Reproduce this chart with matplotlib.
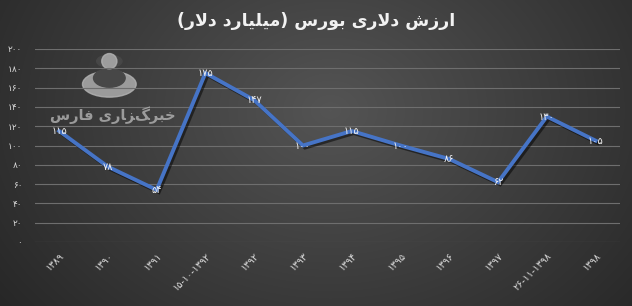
import matplotlib
matplotlib.use("Agg")
import matplotlib.pyplot as plt
import matplotlib.patheffects as pe
from matplotlib.patches import Ellipse
import numpy as np

# data
years = ["۱۳۸۹", "۱۳۹۰", "۱۳۹۱", "۱۵-۱۰-۱۳۹۲", "۱۳۹۲", "۱۳۹۳", "۱۳۹۴",
         "۱۳۹۵", "۱۳۹۶", "۱۳۹۷", "۲۶-۱۱-۱۳۹۸", "۱۳۹۸"]
values = [115, 78, 54, 175, 147, 100, 115, 100, 86, 62, 130, 105]
yticks = [0, 20, 40, 60, 80, 100, 120, 140, 160, 180, 200]

fa_digits = str.maketrans("0123456789", "۰۱۲۳۴۵۶۷۸۹")
def fa(n):
    return str(n).translate(fa_digits)

# title written with arabic presentation forms in visual order
# "ارزش دلاری بورس (میلیارد دلار)"
title = ("(" + "\uFEAD\uFEFB\uFEA9" + " " + "\uFEA9\uFEAD\uFE8E\uFBFF\uFEE0\uFBFF\uFEE3" + ")"
         + " " + "\uFEB1\uFEAD\uFEEE\uFE91" + " " + "\uFBFC\uFEAD\uFEFB\uFEA9"
         + " " + "\uFEB5\uFEAF\uFEAD\uFE8D")
# "خبرگزاری فارس"
watermark = ("\uFEB1\uFEAD\uFE8E\uFED3" + " " + "\uFBFC\uFEAD\uFE8E\uFEB0\uFB93\uFEAE\uFE92\uFEA7")

plt.rcParams["font.family"] = ["DejaVu Sans"]

fig = plt.figure(figsize=(6.32, 3.06), dpi=100)

# background gradient
bg = fig.add_axes([0, 0, 1, 1], zorder=-10)
yy, xx = np.mgrid[0:306, 0:632]
d = np.sqrt(((xx - 330) / 420.0) ** 2 + ((yy - 110) / 330.0) ** 2)
shade = 0.33 - 0.18 * np.clip(d, 0, 1)
bg.imshow(np.dstack([shade, shade, shade]), aspect="auto", extent=[0, 1, 0, 1])
bg.set_xlim(0, 1)
bg.set_ylim(0, 1)
bg.set_axis_off()

# rough fars logo (watermark)
logo = "#b4b4b4"
bg.add_patch(Ellipse((0.173, 0.725), 0.085, 0.085, color=logo, alpha=0.8))
bg.add_patch(Ellipse((0.173, 0.745), 0.05, 0.06, color="#474747"))
bg.add_patch(Ellipse((0.173, 0.80), 0.04, 0.04, color="#474747"))
bg.add_patch(Ellipse((0.173, 0.80), 0.024, 0.05, color=logo, alpha=0.8))

ax = fig.add_axes([0.055, 0.209, 0.926, 0.631])
ax.patch.set_alpha(0)
x = np.arange(len(values))
ax.set_xlim(-0.5, len(values) - 0.5)
ax.set_ylim(0, 200)
ax.set_yticks(yticks)
ax.set_yticklabels([fa(v) for v in yticks])
ax.grid(axis="y", color="#6e6e6e", linewidth=0.8)
ax.set_axisbelow(True)
for s in ax.spines.values():
    s.set_visible(False)
ax.tick_params(length=0, labelsize=6.5, colors="#d9d9d9")
ax.tick_params(axis="y", pad=9)
ax.set_xticks(x)
ax.set_xticklabels(years, rotation=45, ha="right", rotation_mode="anchor", fontsize=7)
ax.tick_params(axis="x", pad=6)

ax.text(1.1, 131, watermark, ha="center", va="center", fontsize=10.5,
        color="#b4b4b4", alpha=0.8, weight="bold")

ax.plot(x, values, color="#4674c6", linewidth=2.8, solid_joinstyle="miter",
        path_effects=[pe.SimpleLineShadow(offset=(1.5, -1.5), alpha=0.5), pe.Normal()])

for i, v in enumerate(values):
    ax.text(i, v, fa(v), ha="center", va="center", fontsize=7, color="#f2f2f2")

fig.text(0.5, 0.93, title, ha="center", va="center", fontsize=12.5, weight="bold",
         color="#f2f2f2")

fig.savefig("out.png", dpi=100)
